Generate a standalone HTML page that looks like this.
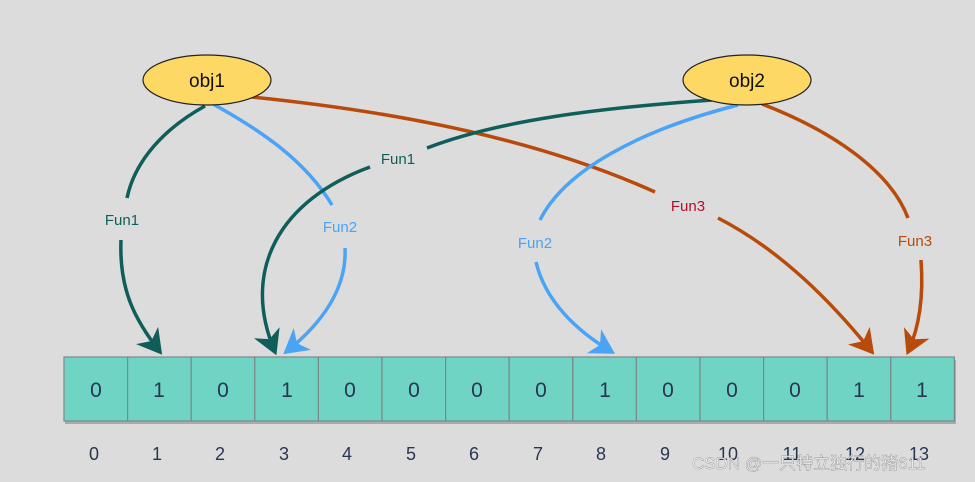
<!DOCTYPE html>
<html><head><meta charset="utf-8"><style>
body{margin:0;background:#dcdcdc;}
svg{display:block;font-family:"Liberation Sans","Noto Sans CJK SC",sans-serif;}
</style></head><body>
<svg width="975" height="482" viewBox="0 0 975 482" xmlns="http://www.w3.org/2000/svg">
<defs>
<marker id="aT" markerWidth="8" markerHeight="8" refX="6" refY="4" orient="auto" markerUnits="strokeWidth"><path d="M0,0 L7,4 L0,8 L2,4 z" fill="#0f5e5a"/></marker>
<marker id="aB" markerWidth="8" markerHeight="8" refX="6" refY="4" orient="auto" markerUnits="strokeWidth"><path d="M0,0 L7,4 L0,8 L2,4 z" fill="#4aa3f5"/></marker>
<marker id="aO" markerWidth="8" markerHeight="8" refX="6" refY="4" orient="auto" markerUnits="strokeWidth"><path d="M0,0 L7,4 L0,8 L2,4 z" fill="#b84a0c"/></marker>
</defs>
<rect width="975" height="482" fill="#dcdcdc"/>
<g fill="none" stroke-width="3.5">
<!-- obj1 Fun1 -->
<path d="M205,106 C165,128 135,160 127,198" stroke="#0f5e5a"/>
<path d="M121,240 C119,290 135,320 160,352" stroke="#0f5e5a" marker-end="url(#aT)"/>
<!-- obj1 Fun2 -->
<path d="M213,104 C260,130 305,160 332,205" stroke="#4aa3f5"/>
<path d="M345,248 C347,290 320,325 286,352" stroke="#4aa3f5" marker-end="url(#aB)"/>
<!-- obj1 Fun3 -->
<path d="M252,97 C400,112 540,140 655,192" stroke="#b84a0c"/>
<path d="M718,218 C780,250 830,300 872,352" stroke="#b84a0c" marker-end="url(#aO)"/>
<!-- obj2 Fun1 -->
<path d="M712,100 C600,108 500,120 427,148" stroke="#0f5e5a"/>
<path d="M370,167 C280,200 240,270 275,352" stroke="#0f5e5a" marker-end="url(#aT)"/>
<!-- obj2 Fun2 -->
<path d="M738,105 C640,130 565,170 540,220" stroke="#4aa3f5"/>
<path d="M536,262 C545,300 575,330 612,352" stroke="#4aa3f5" marker-end="url(#aB)"/>
<!-- obj2 Fun3 -->
<path d="M762,104 C830,130 890,170 908,218" stroke="#b84a0c"/>
<path d="M921,260 C924,300 918,330 908,352" stroke="#b84a0c" marker-end="url(#aO)"/>
</g>
<g font-size="15" text-anchor="middle">
<text x="122" y="225" fill="#0f5e5a">Fun1</text>
<text x="340" y="232" fill="#4aa3f5">Fun2</text>
<text x="688" y="211" fill="#b01030">Fun3</text>
<text x="398" y="164" fill="#0f5e5a">Fun1</text>
<text x="535" y="248" fill="#4aa3f5">Fun2</text>
<text x="915" y="246" fill="#b84a0c">Fun3</text>
</g>
<ellipse cx="207" cy="80" rx="64" ry="25" fill="#fdd865" stroke="#222" stroke-width="1.2"/>
<text x="207" y="87" font-size="19" text-anchor="middle" fill="#111">obj1</text>
<ellipse cx="747" cy="80" rx="64" ry="25" fill="#fdd865" stroke="#222" stroke-width="1.2"/>
<text x="747" y="87" font-size="19" text-anchor="middle" fill="#111">obj2</text>
<rect x="65" y="360" width="891" height="64" fill="#777" opacity="0.5"/>
<g id="cells" stroke="#7a8a86" stroke-width="1.2" fill="#6fd4c4">
<rect x="64" y="357" width="63.6" height="64"/><rect x="127.6" y="357" width="63.6" height="64"/><rect x="191.2" y="357" width="63.6" height="64"/><rect x="254.8" y="357" width="63.6" height="64"/><rect x="318.4" y="357" width="63.6" height="64"/><rect x="382" y="357" width="63.6" height="64"/><rect x="445.6" y="357" width="63.6" height="64"/><rect x="509.2" y="357" width="63.6" height="64"/><rect x="572.8" y="357" width="63.6" height="64"/><rect x="636.4" y="357" width="63.6" height="64"/><rect x="700" y="357" width="63.6" height="64"/><rect x="763.6" y="357" width="63.6" height="64"/><rect x="827.2" y="357" width="63.6" height="64"/><rect x="890.8" y="357" width="63.6" height="64"/>
</g>
<g font-size="21" text-anchor="middle" fill="#2a3550">
<text x="96" y="397">0</text><text x="159" y="397">1</text><text x="223" y="397">0</text><text x="287" y="397">1</text><text x="350" y="397">0</text><text x="414" y="397">0</text><text x="477" y="397">0</text><text x="541" y="397">0</text><text x="605" y="397">1</text><text x="668" y="397">0</text><text x="732" y="397">0</text><text x="795" y="397">0</text><text x="859" y="397">1</text><text x="922" y="397">1</text>
</g>
<g font-size="18" text-anchor="middle" fill="#2a3550">
<text x="94" y="460">0</text><text x="157" y="460">1</text><text x="220" y="460">2</text><text x="284" y="460">3</text><text x="347" y="460">4</text><text x="411" y="460">5</text><text x="474" y="460">6</text><text x="538" y="460">7</text><text x="601" y="460">8</text><text x="665" y="460">9</text><text x="728" y="460">10</text><text x="792" y="460">11</text><text x="855" y="460">12</text><text x="919" y="460">13</text>
</g>
<text x="692" y="469" font-size="17" fill="#ffffff" fill-opacity="0.85" stroke="#999" stroke-width="0.5">CSDN @一只特立独行的猪611</text>
</svg>
</body></html>
